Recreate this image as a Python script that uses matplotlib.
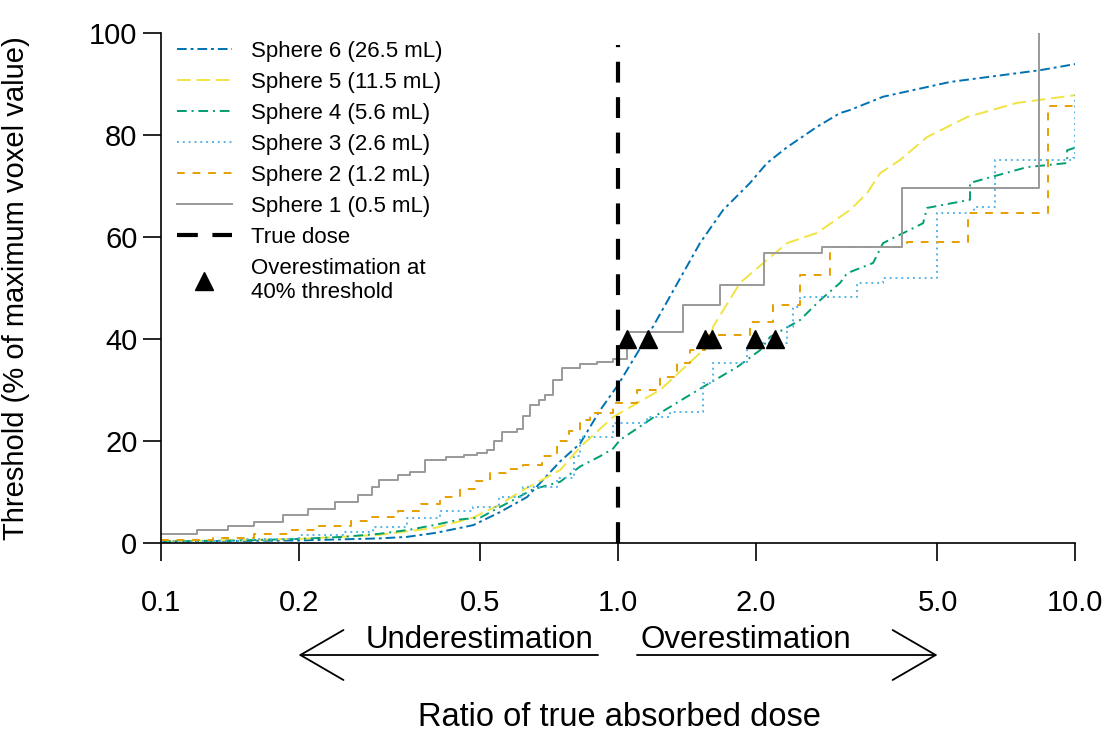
import matplotlib
matplotlib.use("Agg")
import matplotlib.pyplot as plt
import matplotlib.transforms as mtransforms
import numpy as np

plt.rcParams['font.family'] = ['Liberation Sans', 'DejaVu Sans']

# --- data: ratio of true absorbed dose vs threshold (%) ---
s6_x = [0.10, 0.20, 0.30, 0.345, 0.40, 0.482, 0.55, 0.632, 0.747, 0.826, 0.913, 1.0, 1.175,
        1.511, 1.698, 1.945, 2.118, 2.343, 2.725, 3.061, 3.219, 3.801, 5.33, 8.38, 10.0]
s6_y = [0.3, 0.5, 0.9, 1.2, 2.0, 3.5, 6.0, 9.0, 16.0, 19.5, 26.0, 31.0, 41.4,
        58.8, 65.3, 70.6, 74.5, 77.6, 81.6, 84.3, 84.9, 87.5, 90.4, 92.7, 93.9]

s5_x = [0.10, 0.20, 0.30, 0.40, 0.482, 0.55, 0.62, 0.747, 0.826, 0.975, 1.236, 1.535, 1.59,
        1.614, 1.849, 2.118, 2.343, 2.725, 3.219, 3.507, 3.744, 4.14, 4.745, 5.80, 7.47, 10.0]
s5_y = [0.3, 0.8, 1.6, 3.0, 5.0, 7.5, 10.4, 14.3, 18.8, 24.7, 30.0, 37.8, 39.8,
        42.4, 51.0, 55.5, 58.8, 60.8, 65.3, 68.6, 72.5, 75.1, 79.6, 83.5, 86.3, 87.8]

s4_x = [0.10, 0.15, 0.20, 0.25, 0.30, 0.35, 0.40, 0.45, 0.50, 0.55, 0.589, 0.65, 0.747, 0.826,
        0.913, 0.975, 1.01, 1.236, 1.535, 1.822, 2.045, 2.151, 2.50, 2.767, 3.061, 3.171,
        3.614, 3.801, 4.65, 4.745, 5.89, 5.89, 7.85, 9.61, 9.61, 10.0]
s4_y = [0.3, 0.5, 0.8, 1.2, 1.8, 2.6, 3.6, 4.6, 5.0, 7.0, 8.4, 10.5, 12.0, 15.0,
        17.0, 18.5, 20.2, 25.5, 30.6, 34.5, 37.8, 40.4, 43.7, 47.6, 51.0, 52.9,
        54.9, 58.8, 62.7, 65.7, 67.3, 70.6, 73.7, 74.5, 77.0, 77.5]

s3_x = [0.10, 0.15, 0.20, 0.25, 0.291, 0.345, 0.408, 0.482, 0.55, 0.62, 0.735, 0.80, 0.826,
        0.975, 1.157, 1.299, 1.535, 1.614, 1.915, 2.045, 2.343, 2.415, 2.50, 3.334, 3.8,
        4.99, 6.0, 6.68, 9.9, 10.0]
s3_y = [0.3, 0.8, 1.5, 2.2, 3.1, 5.0, 6.2, 7.0, 9.0, 11.0, 12.7, 17.0, 20.8,
        23.5, 24.7, 25.7, 31.4, 35.3, 38.4, 39.2, 42.4, 46.3, 48.2, 51.0, 52.0,
        64.7, 65.9, 75.1, 75.5, 87.8]

s2_x = [0.10, 0.13, 0.16, 0.19, 0.22, 0.26, 0.29, 0.33, 0.37, 0.408, 0.45, 0.49, 0.525, 0.57,
        0.62, 0.68, 0.735, 0.78, 0.826, 0.87, 0.975, 1.10, 1.236, 1.346, 1.437, 1.55,
        1.945, 2.183, 2.50, 2.91, 4.29, 5.83, 8.73, 10.0]
s2_y = [0.5, 1.0, 1.8, 2.6, 3.4, 4.3, 5.1, 6.3, 7.6, 9.0, 10.6, 12.2, 13.7, 14.5,
        15.3, 17.0, 20.0, 22.0, 24.1, 25.5, 27.5, 30.0, 32.5, 35.3, 37.8, 40.8,
        43.3, 46.7, 52.5, 58.0, 59.0, 64.7, 85.7, 85.7]

s1_x = [0.10, 0.12, 0.14, 0.16, 0.185, 0.21, 0.24, 0.27, 0.29, 0.30, 0.33, 0.351, 0.378, 0.42,
        0.46, 0.491, 0.517, 0.535, 0.558, 0.60, 0.62, 0.642, 0.67, 0.692, 0.72, 0.754,
        0.826, 0.90, 0.975, 1.046, 1.388, 1.672, 2.087, 2.795, 4.182, 8.34]
s1_y = [1.8, 2.6, 3.4, 4.2, 5.5, 6.7, 8.0, 9.5, 11.0, 12.4, 13.3, 14.0, 16.3, 16.8,
        17.2, 17.6, 18.2, 20.0, 21.8, 22.3, 25.0, 27.0, 28.0, 29.0, 32.0, 34.3,
        35.0, 35.5, 36.0, 41.4, 46.7, 50.6, 56.9, 58.0, 69.6, 100.0]

over40_x = [1.046, 1.163, 1.549, 1.606, 1.994, 2.205]
over40_y = [40, 40, 40, 40, 40, 40]

xticks = [0.1, 0.2, 0.5, 1.0, 2.0, 5.0, 10.0]
yticks = [0, 20, 40, 60, 80, 100]

fig = plt.figure(figsize=(11.13, 7.33), dpi=100)
ax = fig.add_axes([0.1447, 0.2592, 0.8212, 0.6958])

lw = 1.4
ax.plot(s6_x, s6_y, color='#0072B2', lw=lw, dashes=(5, 2, 1.5, 2), label='Sphere 6 (26.5 mL)')
ax.plot(s5_x, s5_y, color='#F0E442', lw=lw, dashes=(7, 3), label='Sphere 5 (11.5 mL)')
ax.plot(s4_x, s4_y, color='#009E73', lw=lw, dashes=(5, 2.5, 1, 2.5), label='Sphere 4 (5.6 mL)')
ax.plot(s3_x, s3_y, color='#56B4E9', lw=lw, dashes=(1, 2), drawstyle='steps-post',
        label='Sphere 3 (2.6 mL)')
ax.plot(s2_x, s2_y, color='#E69F00', lw=lw, dashes=(4, 4), drawstyle='steps-post',
        label='Sphere 2 (1.2 mL)')
ax.plot(s1_x, s1_y, color='#999999', lw=lw, drawstyle='steps-post', label='Sphere 1 (0.5 mL)')
ax.plot([1.0, 1.0], [0, 97.7], color='black', lw=3, dashes=(5, 3.5), label='True dose')
ax.plot(over40_x, over40_y, ls='none', marker='^', color='black', ms=13,
        label='Overestimation at\n40% threshold')

ax.set_xscale('log')
ax.set_xlim(0.1, 10.0)
ax.set_ylim(0, 100)
ax.set_xticks(xticks)
ax.set_xticklabels(['%.1f' % t for t in xticks])
ax.minorticks_off()
ax.set_yticks(yticks)
ax.tick_params(axis='x', labelsize=21, length=13, width=1.2, pad=20)
ax.tick_params(axis='y', labelsize=21, length=13, width=1.2, pad=4)
for side in ['top', 'right']:
    ax.spines[side].set_visible(False)
for side in ['left', 'bottom']:
    ax.spines[side].set_linewidth(1.2)

ax.set_ylabel('Threshold (% of maximum voxel value)', fontsize=21)
ax.yaxis.set_label_coords(-0.143, 0.5)
ax.set_xlabel('Ratio of true absorbed dose', fontsize=23.5)
ax.xaxis.set_label_coords(0.502, -0.312)

leg = ax.legend(loc='upper left', bbox_to_anchor=(0.0, 1.015), frameon=False, fontsize=16,
                handlelength=2.5, handletextpad=0.85, labelspacing=0.45, borderaxespad=0.3)

# under/over-estimation arrows below the axis
trans = mtransforms.blended_transform_factory(ax.transData, ax.transAxes)
arrow = dict(arrowstyle='->,head_length=1.55,head_width=0.9', lw=1.3, color='black',
             shrinkA=0, shrinkB=0, mutation_scale=20)
ax.annotate('', xy=(0.2, -0.2196), xytext=(0.904, -0.2196), xycoords=trans,
            textcoords=trans, arrowprops=arrow, annotation_clip=False)
ax.annotate('', xy=(5.0, -0.2196), xytext=(1.10, -0.2196), xycoords=trans,
            textcoords=trans, arrowprops=arrow, annotation_clip=False)
ax.text(0.497, -0.19, 'Underestimation', transform=trans, ha='center', va='center', fontsize=22.5)
ax.text(1.905, -0.19, 'Overestimation', transform=trans, ha='center', va='center', fontsize=22.5)

fig.savefig('out.png', dpi=100)
